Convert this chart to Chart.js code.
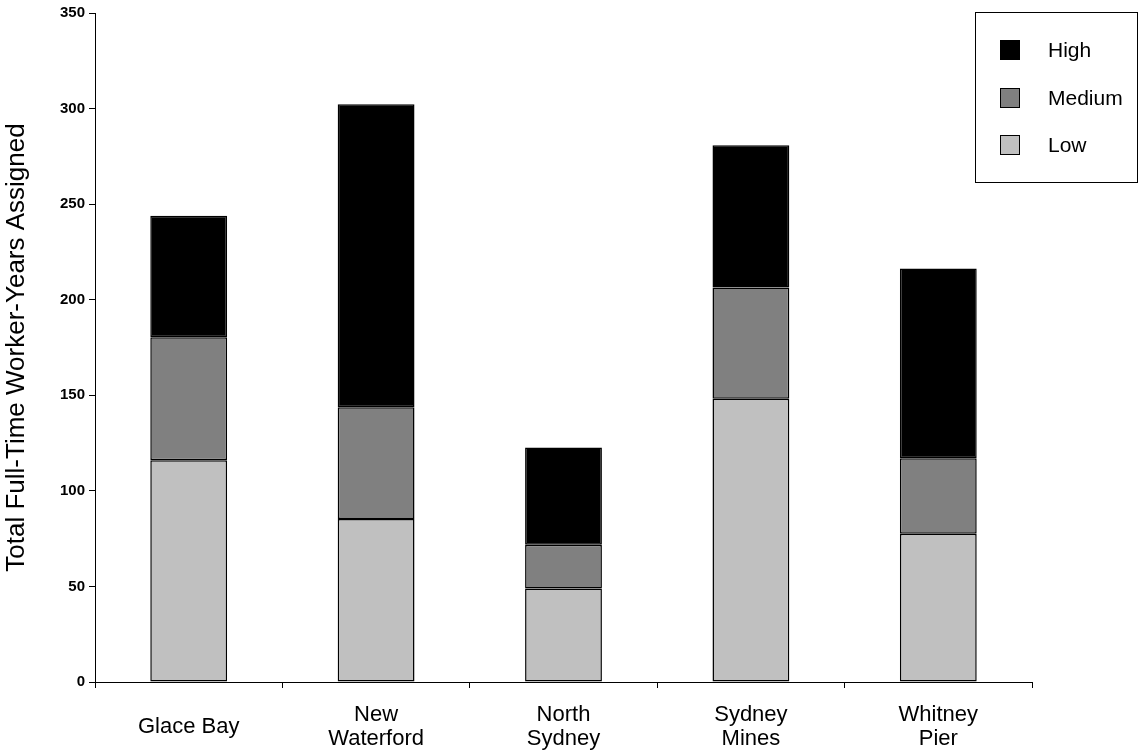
<!DOCTYPE html>
<html>
<head>
<meta charset="utf-8">
<script src="https://cdn.jsdelivr.net/npm/chart.js@4.4.1/dist/chart.umd.min.js"></script>
<style>
  html, body { margin: 0; padding: 0; background: #fff; }
  #wrap { width: 1144px; height: 751px; }
</style>
</head>
<body>
<div id="wrap"><canvas id="c" width="1144" height="751"></canvas></div>
<script>
// Communities (x categories)
const communities = [
  'Glace Bay',
  ['New', 'Waterford'],
  ['North', 'Sydney'],
  ['Sydney', 'Mines'],
  ['Whitney', 'Pier']
];

// Full-time worker-years by priority level
const lowValues    = [116.0, 85.3, 48.9, 148.2, 77.5];
const mediumValues = [64.4, 58.4, 22.9, 58.2, 39.5];
const highValues   = [63.5, 158.6, 50.9, 74.4, 99.3];

// Y axis range and tick step
const yMin = 0;
const yMax = 350;
const yStep = 50;

const FONT = '"Liberation Sans", Arial, Helvetica, sans-serif';

// Boxed legend at the top right, listing series from top of stack to bottom
const boxLegend = {
  id: 'boxLegend',
  afterDraw(chart) {
    const ctx = chart.ctx;
    const x0 = 975.5, y0 = 12.5, w = 162, h = 170;
    ctx.save();
    ctx.strokeStyle = '#000';
    ctx.lineWidth = 1;
    ctx.strokeRect(x0, y0, w, h);
    const items = chart.data.datasets.slice().reverse();
    const rowY = [50, 98, 145];
    ctx.font = '21px ' + FONT;
    ctx.textBaseline = 'middle';
    ctx.textAlign = 'left';
    items.forEach((ds, i) => {
      const cy = rowY[i];
      ctx.fillStyle = ds.backgroundColor;
      ctx.fillRect(1000, cy - 10, 20, 20);
      ctx.strokeStyle = '#000';
      ctx.strokeRect(1000.5, cy - 9.5, 19, 19);
      ctx.fillStyle = '#000';
      ctx.fillText(ds.label, 1048, cy + 1);
    });
    ctx.restore();
  }
};

new Chart(document.getElementById('c'), {
  type: 'bar',
  data: {
    labels: communities,
    datasets: [
      { label: 'Low',    data: lowValues,    backgroundColor: '#c0c0c0' },
      { label: 'Medium', data: mediumValues, backgroundColor: '#808080' },
      { label: 'High',   data: highValues,   backgroundColor: '#000000' }
    ]
  },
  options: {
    responsive: false,
    animation: false,
    devicePixelRatio: 1,
    layout: { padding: { top: 10, right: 112, left: 0, bottom: 0 } },
    datasets: {
      bar: {
        barPercentage: 0.41,
        categoryPercentage: 1.0,
        borderColor: '#000',
        borderWidth: 1.5,
        borderSkipped: false
      }
    },
    plugins: {
      legend: { display: false },
      tooltip: { enabled: false }
    },
    scales: {
      x: {
        stacked: true,
        grid: { offset: true, drawOnChartArea: false, drawTicks: true, tickLength: 6, color: '#000' },
        border: { color: '#000', width: 1 },
        ticks: {
          color: '#000',
          font: { family: FONT, size: 22, lineHeight: 1.1 },
          padding: 27,
          maxRotation: 0,
          autoSkip: false,
          crossAlign: 'center'
        },
        afterFit(scale) { scale.height = 69; }
      },
      y: {
        stacked: true,
        min: yMin,
        max: yMax,
        grid: { drawOnChartArea: false, drawTicks: true, tickLength: 6, color: '#000' },
        border: { color: '#000', width: 1 },
        ticks: {
          stepSize: yStep,
          color: '#000',
          font: { family: FONT, size: 15, weight: 'bold' },
          padding: 4
        },
        title: {
          display: true,
          text: 'Total Full-Time Worker-Years Assigned',
          color: '#000',
          font: { family: FONT, size: 26 },
          padding: { top: 1, bottom: 0 }
        },
        afterFit(scale) { scale.width = 95; }
      }
    }
  },
  plugins: [boxLegend]
});
</script>
</body>
</html>
